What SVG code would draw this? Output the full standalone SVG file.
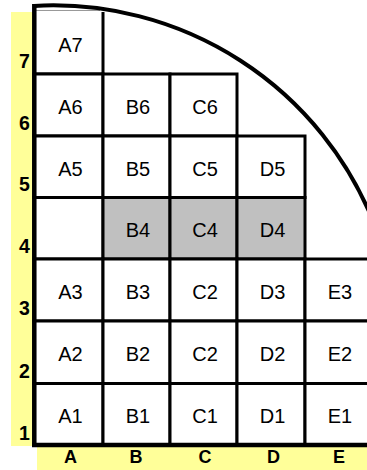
<svg xmlns="http://www.w3.org/2000/svg" width="367" height="470" viewBox="0 0 367 470">
<style>
.band{fill:#ffff99}
.cell{fill:#ffffff;stroke:#000;stroke-width:3}
.hi{fill:#c0c0c0;stroke:#000;stroke-width:3}
.edge{fill:none;stroke:#000;stroke-width:3}
.lbl{font-family:"Liberation Sans",Arial,sans-serif;font-size:20px;fill:#000;text-anchor:middle}
.ax{font-family:"Liberation Sans",Arial,sans-serif;font-size:18px;font-weight:bold;fill:#000;text-anchor:middle}
.rx{font-size:19.5px}
.axis{fill:none;stroke:#000;stroke-width:4.5}
.arc{fill:none;stroke:#000;stroke-width:4}
</style>
<rect class="band" x="11" y="12" width="22" height="434"/>
<rect class="band" x="37" y="446" width="330" height="24"/>

<g id="A7">
<rect x="34" y="12" width="69" height="62" fill="#fff"/>
<line x1="36" y1="10.5" x2="100" y2="10.5" stroke="#999" stroke-width="1"/>
<path class="edge" d="M103,12 V74 H34"/>
<text class="lbl" x="70.5" y="51.5">A7</text>
</g>
<g id="A6"><rect class="cell" x="34" y="74" width="69" height="62"/><text class="lbl" x="70.5" y="113.5">A6</text></g>
<g id="B6"><rect class="cell" x="103" y="74" width="67" height="62"/><text class="lbl" x="138" y="113.5">B6</text></g>
<g id="C6"><rect class="cell" x="170" y="74" width="67" height="62"/><text class="lbl" x="205" y="113.5">C6</text></g>

<g id="A5"><rect class="cell" x="34" y="136" width="69" height="61.5"/><text class="lbl" x="70.5" y="175.5">A5</text></g>
<g id="B5"><rect class="cell" x="103" y="136" width="67" height="61.5"/><text class="lbl" x="138" y="175.5">B5</text></g>
<g id="C5"><rect class="cell" x="170" y="136" width="67" height="61.5"/><text class="lbl" x="205" y="175.5">C5</text></g>
<g id="D5"><rect class="cell" x="237" y="136" width="68" height="61.5"/><text class="lbl" x="272.5" y="175.5">D5</text></g>

<g id="A4"><rect class="cell" x="34" y="197.5" width="69" height="61.5"/></g>
<g id="B4"><rect class="hi" x="103" y="197.5" width="67" height="61.5"/><text class="lbl" x="138" y="237">B4</text></g>
<g id="C4"><rect class="hi" x="170" y="197.5" width="67" height="61.5"/><text class="lbl" x="205" y="237">C4</text></g>
<g id="D4"><rect class="hi" x="237" y="197.5" width="68" height="61.5"/><text class="lbl" x="272.5" y="237">D4</text></g>

<g id="A3"><rect class="cell" x="34" y="259" width="69" height="62"/><text class="lbl" x="70.5" y="299">A3</text></g>
<g id="B3"><rect class="cell" x="103" y="259" width="67" height="62"/><text class="lbl" x="138" y="299">B3</text></g>
<g id="C3"><rect class="cell" x="170" y="259" width="67" height="62"/><text class="lbl" x="205" y="299">C2</text></g>
<g id="D3"><rect class="cell" x="237" y="259" width="68" height="62"/><text class="lbl" x="272.5" y="299">D3</text></g>
<g id="E3"><rect class="cell" x="305" y="259" width="67" height="62"/><text class="lbl" x="340" y="299">E3</text></g>

<g id="A2"><rect class="cell" x="34" y="321" width="69" height="62.5"/><text class="lbl" x="70.5" y="361">A2</text></g>
<g id="B2"><rect class="cell" x="103" y="321" width="67" height="62.5"/><text class="lbl" x="138" y="361">B2</text></g>
<g id="C2"><rect class="cell" x="170" y="321" width="67" height="62.5"/><text class="lbl" x="205" y="361">C2</text></g>
<g id="D2"><rect class="cell" x="237" y="321" width="68" height="62.5"/><text class="lbl" x="272.5" y="361">D2</text></g>
<g id="E2"><rect class="cell" x="305" y="321" width="67" height="62.5"/><text class="lbl" x="340" y="361">E2</text></g>

<g id="A1"><rect class="cell" x="34" y="383.5" width="69" height="61.5"/><text class="lbl" x="70.5" y="423">A1</text></g>
<g id="B1"><rect class="cell" x="103" y="383.5" width="67" height="61.5"/><text class="lbl" x="138" y="423">B1</text></g>
<g id="C1"><rect class="cell" x="170" y="383.5" width="67" height="61.5"/><text class="lbl" x="205" y="423">C1</text></g>
<g id="D1"><rect class="cell" x="237" y="383.5" width="68" height="61.5"/><text class="lbl" x="272.5" y="423">D1</text></g>
<g id="E1"><rect class="cell" x="305" y="383.5" width="67" height="61.5"/><text class="lbl" x="340" y="423">E1</text></g>

<g id="connectors">
<path class="arc" d="M34,5.9 A345,345 0 0 1 375,226"/>
<path class="axis" d="M34.3,4 V447"/>
<path class="axis" d="M32,445 H367"/>
</g>

<g id="row-labels">
<text class="ax rx" x="24.5" y="68">7</text>
<text class="ax rx" x="24.5" y="130">6</text>
<text class="ax rx" x="24.5" y="191">5</text>
<text class="ax rx" x="24.5" y="253">4</text>
<text class="ax rx" x="24.5" y="315">3</text>
<text class="ax rx" x="24.5" y="377.5">2</text>
<text class="ax rx" x="24.5" y="440">1</text>
</g>
<g id="col-labels">
<text class="ax" x="70.5" y="462.5">A</text>
<text class="ax" x="136" y="462.5">B</text>
<text class="ax" x="205" y="462.5">C</text>
<text class="ax" x="273.5" y="462.5">D</text>
<text class="ax" x="339" y="462.5">E</text>
</g>
</svg>
